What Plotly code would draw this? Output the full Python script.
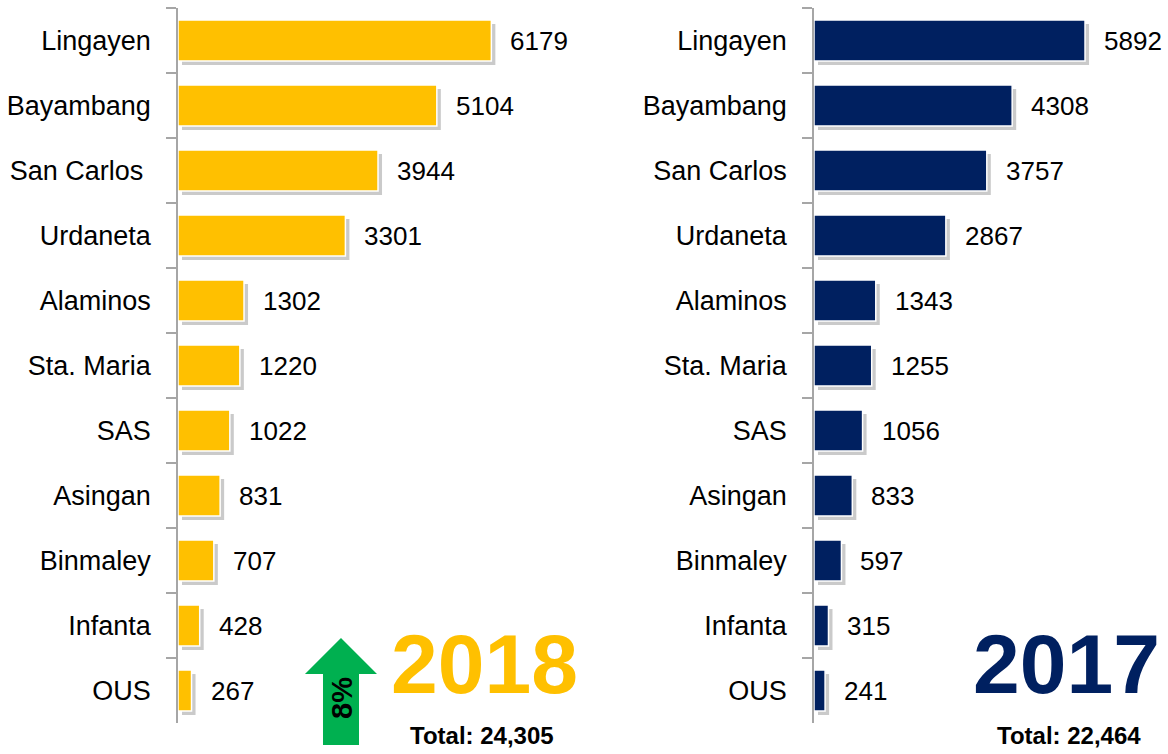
import plotly.graph_objects as go

# data
towns = ["Lingayen", "Bayambang", "San Carlos\u00a0", "Urdaneta", "Alaminos", "Sta. Maria",
         "SAS", "Asingan", "Binmaley", "Infanta", "OUS"]
towns_2017 = ["Lingayen", "Bayambang", "San Carlos", "Urdaneta", "Alaminos", "Sta. Maria",
              "SAS", "Asingan", "Binmaley", "Infanta", "OUS"]
cases_2018 = [6179, 5104, 3944, 3301, 1302, 1220, 1022, 831, 707, 428, 267]
cases_2017 = [5892, 4308, 3757, 2867, 1343, 1255, 1056, 833, 597, 315, 241]

YELLOW = "#FFC000"
NAVY = "#002060"
GREEN = "#00B050"
GRAY = "#A6A6A6"
FONT = "Liberation Sans, Arial, sans-serif"

W, H = 1168, 754
ML, MR, MT, MB = 178, 0, 8, 27
PW = W - ML - MR
PH = H - MT - MB
SH = 4  # shadow offset px


def px(x):
    return (x - ML) / PW


def py(y):
    return (H - MB - y) / PH


total_2018 = sum(cases_2018)
total_2017 = sum(cases_2017)
change = round((total_2018 - total_2017) / total_2017 * 100)

fig = go.Figure()

# shadows first (drawn underneath)
fig.add_trace(go.Bar(x=cases_2018, y=towns, orientation="h", xaxis="x", yaxis="y",
                     marker=dict(color="rgba(90,90,90,0.32)", line=dict(width=0)),
                     hoverinfo="skip", showlegend=False))
fig.add_trace(go.Bar(x=cases_2017, y=towns_2017, orientation="h", xaxis="x2", yaxis="y2",
                     marker=dict(color="rgba(90,90,90,0.32)", line=dict(width=0)),
                     hoverinfo="skip", showlegend=False))
# main bars
fig.add_trace(go.Bar(x=cases_2018, y=towns, orientation="h", xaxis="x3", yaxis="y3",
                     marker=dict(color=YELLOW, line=dict(color="white", width=1.5)),
                     showlegend=False))
fig.add_trace(go.Bar(x=cases_2017, y=towns_2017, orientation="h", xaxis="x4", yaxis="y4",
                     marker=dict(color=NAVY, line=dict(color="white", width=1.5)),
                     showlegend=False))

left_dom = [0, px(533)]
right_dom = [px(814), px(1136)]
main_y = [SH / PH, 1]
shadow_y = [0, 1 - SH / PH]
hidden = dict(visible=False, range=[0, 7000], fixedrange=True)

cat_axis = dict(type="category", autorange="reversed", showgrid=False,
                showline=True, linecolor=GRAY, linewidth=1.5,
                ticks="outside", tickson="boundaries", ticklen=10, tickcolor=GRAY,
                tickwidth=1.5, ticklabelstandoff=20,
                tickfont=dict(family=FONT, size=27, color="black"))

fig.update_layout(
    width=W, height=H,
    margin=dict(l=ML, r=MR, t=MT, b=MB),
    paper_bgcolor="white", plot_bgcolor="rgba(0,0,0,0)",
    bargap=0.37,
    xaxis=dict(hidden, domain=[left_dom[0] + SH / PW, left_dom[1] + SH / PW], anchor="y"),
    yaxis=dict(type="category", autorange="reversed", visible=False, domain=shadow_y, anchor="x"),
    xaxis2=dict(hidden, domain=[right_dom[0] + SH / PW, right_dom[1] + SH / PW], anchor="y2"),
    yaxis2=dict(type="category", autorange="reversed", visible=False, domain=shadow_y, anchor="x2"),
    xaxis3=dict(hidden, domain=left_dom, anchor="y3"),
    yaxis3=dict(cat_axis, domain=main_y, anchor="x3"),
    xaxis4=dict(hidden, domain=right_dom, anchor="y4"),
    yaxis4=dict(cat_axis, domain=main_y, anchor="x4"),
)

# value labels
for v, t in zip(cases_2018, towns):
    fig.add_annotation(x=v, y=t, xref="x3", yref="y3", text=str(v), showarrow=False,
                       xanchor="left", xshift=17, font=dict(family=FONT, size=26, color="black"))
for v, t in zip(cases_2017, towns_2017):
    fig.add_annotation(x=v, y=t, xref="x4", yref="y4", text=str(v), showarrow=False,
                       xanchor="left", xshift=17, font=dict(family=FONT, size=26, color="black"))

# year titles
for label, color, cx in [("2018", YELLOW, 484), ("2017", NAVY, 1066)]:
    fig.add_annotation(x=px(cx), y=py(664), xref="paper", yref="paper", text="<b>%s</b>" % label,
                       showarrow=False, xanchor="center", yanchor="middle",
                       font=dict(family=FONT, size=84, color=color))

fig.add_annotation(x=px(482), y=py(736), xref="paper", yref="paper",
                   text="<b>Total: {:,}</b>".format(total_2018), showarrow=False,
                   xanchor="center", yanchor="middle", font=dict(family=FONT, size=24, color="black"))
fig.add_annotation(x=px(1069), y=py(736), xref="paper", yref="paper",
                   text="<b>Total: {:,}</b>".format(total_2017), showarrow=False,
                   xanchor="center", yanchor="middle", font=dict(family=FONT, size=24, color="black"))

# green up arrow
pts = [(341, 638), (377, 674), (359, 674), (359, 745), (323, 745), (323, 674), (305, 674)]
path = "M " + " L ".join("{:.5f},{:.5f}".format(px(a), py(b)) for a, b in pts) + " Z"
fig.add_shape(type="path", path=path, xref="paper", yref="paper",
              fillcolor=GREEN, line=dict(width=0), layer="above")
fig.add_annotation(x=px(342), y=py(698), xref="paper", yref="paper",
                   text="<b>%d%%</b>" % change, textangle=-90, showarrow=False,
                   xanchor="center", yanchor="middle", font=dict(family=FONT, size=29, color="black"))

fig.write_html("out.html", config={"displayModeBar": False},
               post_script="document.body.style.margin='0';")
